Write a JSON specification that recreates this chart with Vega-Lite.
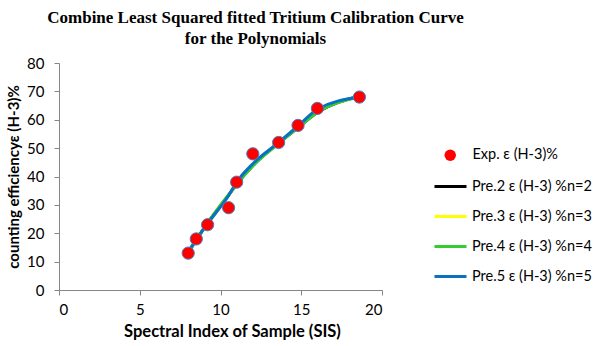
{
  "$schema": "https://vega.github.io/schema/vega-lite/v6.json",
  "width": 323,
  "height": 227,
  "autosize": {"type": "none"},
  "padding": {"left": 59, "top": 63, "right": 213, "bottom": 56},
  "background": "white",
  "title": {
    "text": ["Combine Least Squared fitted Tritium Calibration Curve", "for the Polynomials"],
    "font": "Liberation Serif",
    "fontSize": 17,
    "fontWeight": "bold",
    "color": "black",
    "anchor": "middle",
    "dx": 35,
    "offset": 8,
    "lineHeight": 21
  },
  "config": {
    "view": {"stroke": null},
    "axis": {
      "grid": false,
      "domainColor": "#868686",
      "tickColor": "#868686",
      "tickSize": 5,
      "labelFont": "Lato",
      "labelFontSize": 15,
      "labelColor": "black",
      "titleFont": "Lato",
      "titleFontSize": 15,
      "titleFontWeight": "bold",
      "titleColor": "black"
    },
    "axisY": {"tickCount": 9, "labelOverlap": false},
    "legend": {
      "labelFont": "Lato",
      "labelFontSize": 14.5,
      "labelColor": "black"
    }
  },
  "datasets": {
    "exp": [
      {"SIS": 8.0, "eff": 13, "label": "Exp. ε (H-3)%"},
      {"SIS": 8.5, "eff": 18, "label": "Exp. ε (H-3)%"},
      {"SIS": 9.2, "eff": 23, "label": "Exp. ε (H-3)%"},
      {"SIS": 10.5, "eff": 29, "label": "Exp. ε (H-3)%"},
      {"SIS": 11.0, "eff": 38, "label": "Exp. ε (H-3)%"},
      {"SIS": 12.0, "eff": 48, "label": "Exp. ε (H-3)%"},
      {"SIS": 13.6, "eff": 52, "label": "Exp. ε (H-3)%"},
      {"SIS": 14.8, "eff": 58, "label": "Exp. ε (H-3)%"},
      {"SIS": 16.0, "eff": 64, "label": "Exp. ε (H-3)%"},
      {"SIS": 18.6, "eff": 68, "label": "Exp. ε (H-3)%"}
    ],
    "fits": [
      {"SIS": 8.0, "eff": 13.2, "series": "Pre.2 ε (H-3) %n=2"},
      {"SIS": 8.5, "eff": 17.6, "series": "Pre.2 ε (H-3) %n=2"},
      {"SIS": 9.2, "eff": 23.5, "series": "Pre.2 ε (H-3) %n=2"},
      {"SIS": 10.5, "eff": 33.4, "series": "Pre.2 ε (H-3) %n=2"},
      {"SIS": 11.0, "eff": 37.2, "series": "Pre.2 ε (H-3) %n=2"},
      {"SIS": 12.0, "eff": 43.8, "series": "Pre.2 ε (H-3) %n=2"},
      {"SIS": 13.6, "eff": 51.8, "series": "Pre.2 ε (H-3) %n=2"},
      {"SIS": 14.8, "eff": 57.2, "series": "Pre.2 ε (H-3) %n=2"},
      {"SIS": 16.0, "eff": 62.6, "series": "Pre.2 ε (H-3) %n=2"},
      {"SIS": 18.6, "eff": 68.2, "series": "Pre.2 ε (H-3) %n=2"},
      {"SIS": 8.0, "eff": 13.3, "series": "Pre.3 ε (H-3) %n=3"},
      {"SIS": 8.5, "eff": 17.7, "series": "Pre.3 ε (H-3) %n=3"},
      {"SIS": 9.2, "eff": 23.6, "series": "Pre.3 ε (H-3) %n=3"},
      {"SIS": 10.5, "eff": 33.5, "series": "Pre.3 ε (H-3) %n=3"},
      {"SIS": 11.0, "eff": 37.3, "series": "Pre.3 ε (H-3) %n=3"},
      {"SIS": 12.0, "eff": 43.9, "series": "Pre.3 ε (H-3) %n=3"},
      {"SIS": 13.6, "eff": 51.9, "series": "Pre.3 ε (H-3) %n=3"},
      {"SIS": 14.8, "eff": 57.4, "series": "Pre.3 ε (H-3) %n=3"},
      {"SIS": 16.0, "eff": 62.8, "series": "Pre.3 ε (H-3) %n=3"},
      {"SIS": 18.6, "eff": 68.1, "series": "Pre.3 ε (H-3) %n=3"},
      {"SIS": 8.0, "eff": 13.4, "series": "Pre.4 ε (H-3) %n=4"},
      {"SIS": 8.5, "eff": 17.8, "series": "Pre.4 ε (H-3) %n=4"},
      {"SIS": 9.2, "eff": 23.7, "series": "Pre.4 ε (H-3) %n=4"},
      {"SIS": 10.5, "eff": 33.6, "series": "Pre.4 ε (H-3) %n=4"},
      {"SIS": 11.0, "eff": 37.3, "series": "Pre.4 ε (H-3) %n=4"},
      {"SIS": 12.0, "eff": 43.7, "series": "Pre.4 ε (H-3) %n=4"},
      {"SIS": 13.6, "eff": 51.6, "series": "Pre.4 ε (H-3) %n=4"},
      {"SIS": 14.8, "eff": 57.2, "series": "Pre.4 ε (H-3) %n=4"},
      {"SIS": 16.0, "eff": 62.6, "series": "Pre.4 ε (H-3) %n=4"},
      {"SIS": 18.6, "eff": 68.0, "series": "Pre.4 ε (H-3) %n=4"},
      {"SIS": 8.0, "eff": 13.3, "series": "Pre.5 ε (H-3) %n=5"},
      {"SIS": 8.5, "eff": 17.8, "series": "Pre.5 ε (H-3) %n=5"},
      {"SIS": 9.2, "eff": 23.4, "series": "Pre.5 ε (H-3) %n=5"},
      {"SIS": 10.5, "eff": 33.3, "series": "Pre.5 ε (H-3) %n=5"},
      {"SIS": 11.0, "eff": 38.0, "series": "Pre.5 ε (H-3) %n=5"},
      {"SIS": 12.0, "eff": 44.5, "series": "Pre.5 ε (H-3) %n=5"},
      {"SIS": 13.6, "eff": 52.0, "series": "Pre.5 ε (H-3) %n=5"},
      {"SIS": 14.8, "eff": 57.8, "series": "Pre.5 ε (H-3) %n=5"},
      {"SIS": 16.0, "eff": 63.7, "series": "Pre.5 ε (H-3) %n=5"},
      {"SIS": 18.6, "eff": 68.0, "series": "Pre.5 ε (H-3) %n=5"}
    ]
  },
  "encoding": {
    "x": {
      "field": "SIS", "type": "quantitative",
      "scale": {"domain": [0, 20], "nice": false},
      "axis": {"values": [0, 5, 10, 15, 20], "title": "Spectral Index of Sample (SIS)", "titleFontSize": 16.5, "titleX": 173, "labelPadding": 7, "titlePadding": 6}
    },
    "y": {
      "field": "eff", "type": "quantitative",
      "scale": {"domain": [0, 80], "nice": false},
      "axis": {"values": [0, 10, 20, 30, 40, 50, 60, 70, 80], "labelOverlap": false, "labelBound": false, "title": "counting efficiencyε (H-3)%", "labelPadding": 10, "titlePadding": 5}
    }
  },
  "layer": [
    {
      "data": {"name": "fits"},
      "mark": {"type": "line", "interpolate": "monotone"},
      "encoding": {
        "color": {
          "field": "series", "type": "nominal",
          "scale": {
            "domain": ["Pre.2 ε (H-3) %n=2", "Pre.3 ε (H-3) %n=3", "Pre.4 ε (H-3) %n=4", "Pre.5 ε (H-3) %n=5"],
            "range": ["#000000", "#ffff00", "#33cc33", "#0a70c0"]
          },
          "legend": {
            "title": null,
            "orient": "none",
            "legendX": 374,
            "legendY": 106,
            "symbolType": "stroke",
            "symbolSize": 1024,
            "symbolStrokeWidth": 3.5,
            "labelOffset": 4,
            "rowPadding": 6
          }
        },
        "strokeWidth": {
          "field": "series", "type": "nominal",
          "scale": {
            "domain": ["Pre.2 ε (H-3) %n=2", "Pre.3 ε (H-3) %n=3", "Pre.4 ε (H-3) %n=4", "Pre.5 ε (H-3) %n=5"],
            "range": [3, 3, 3, 4]
          },
          "legend": null
        },
        "order": {"field": "SIS", "type": "quantitative"}
      }
    },
    {
      "data": {"name": "exp"},
      "mark": {"type": "point", "filled": true, "shape": "circle", "size": 150, "stroke": "#4a7ebb", "strokeWidth": 1, "opacity": 1, "fill": "#ff0000"},
      "encoding": {
        "shape": {
          "field": "label", "type": "nominal",
          "scale": {"range": ["circle"]},
          "legend": {
            "title": null,
            "orient": "none",
            "legendX": 384,
            "legendY": 85,
            "symbolFillColor": "#ff0000",
            "symbolStrokeColor": "#4a7ebb",
            "symbolStrokeWidth": 1,
            "symbolSize": 130,
            "labelOffset": 15
          }
        }
      }
    }
  ]
}
